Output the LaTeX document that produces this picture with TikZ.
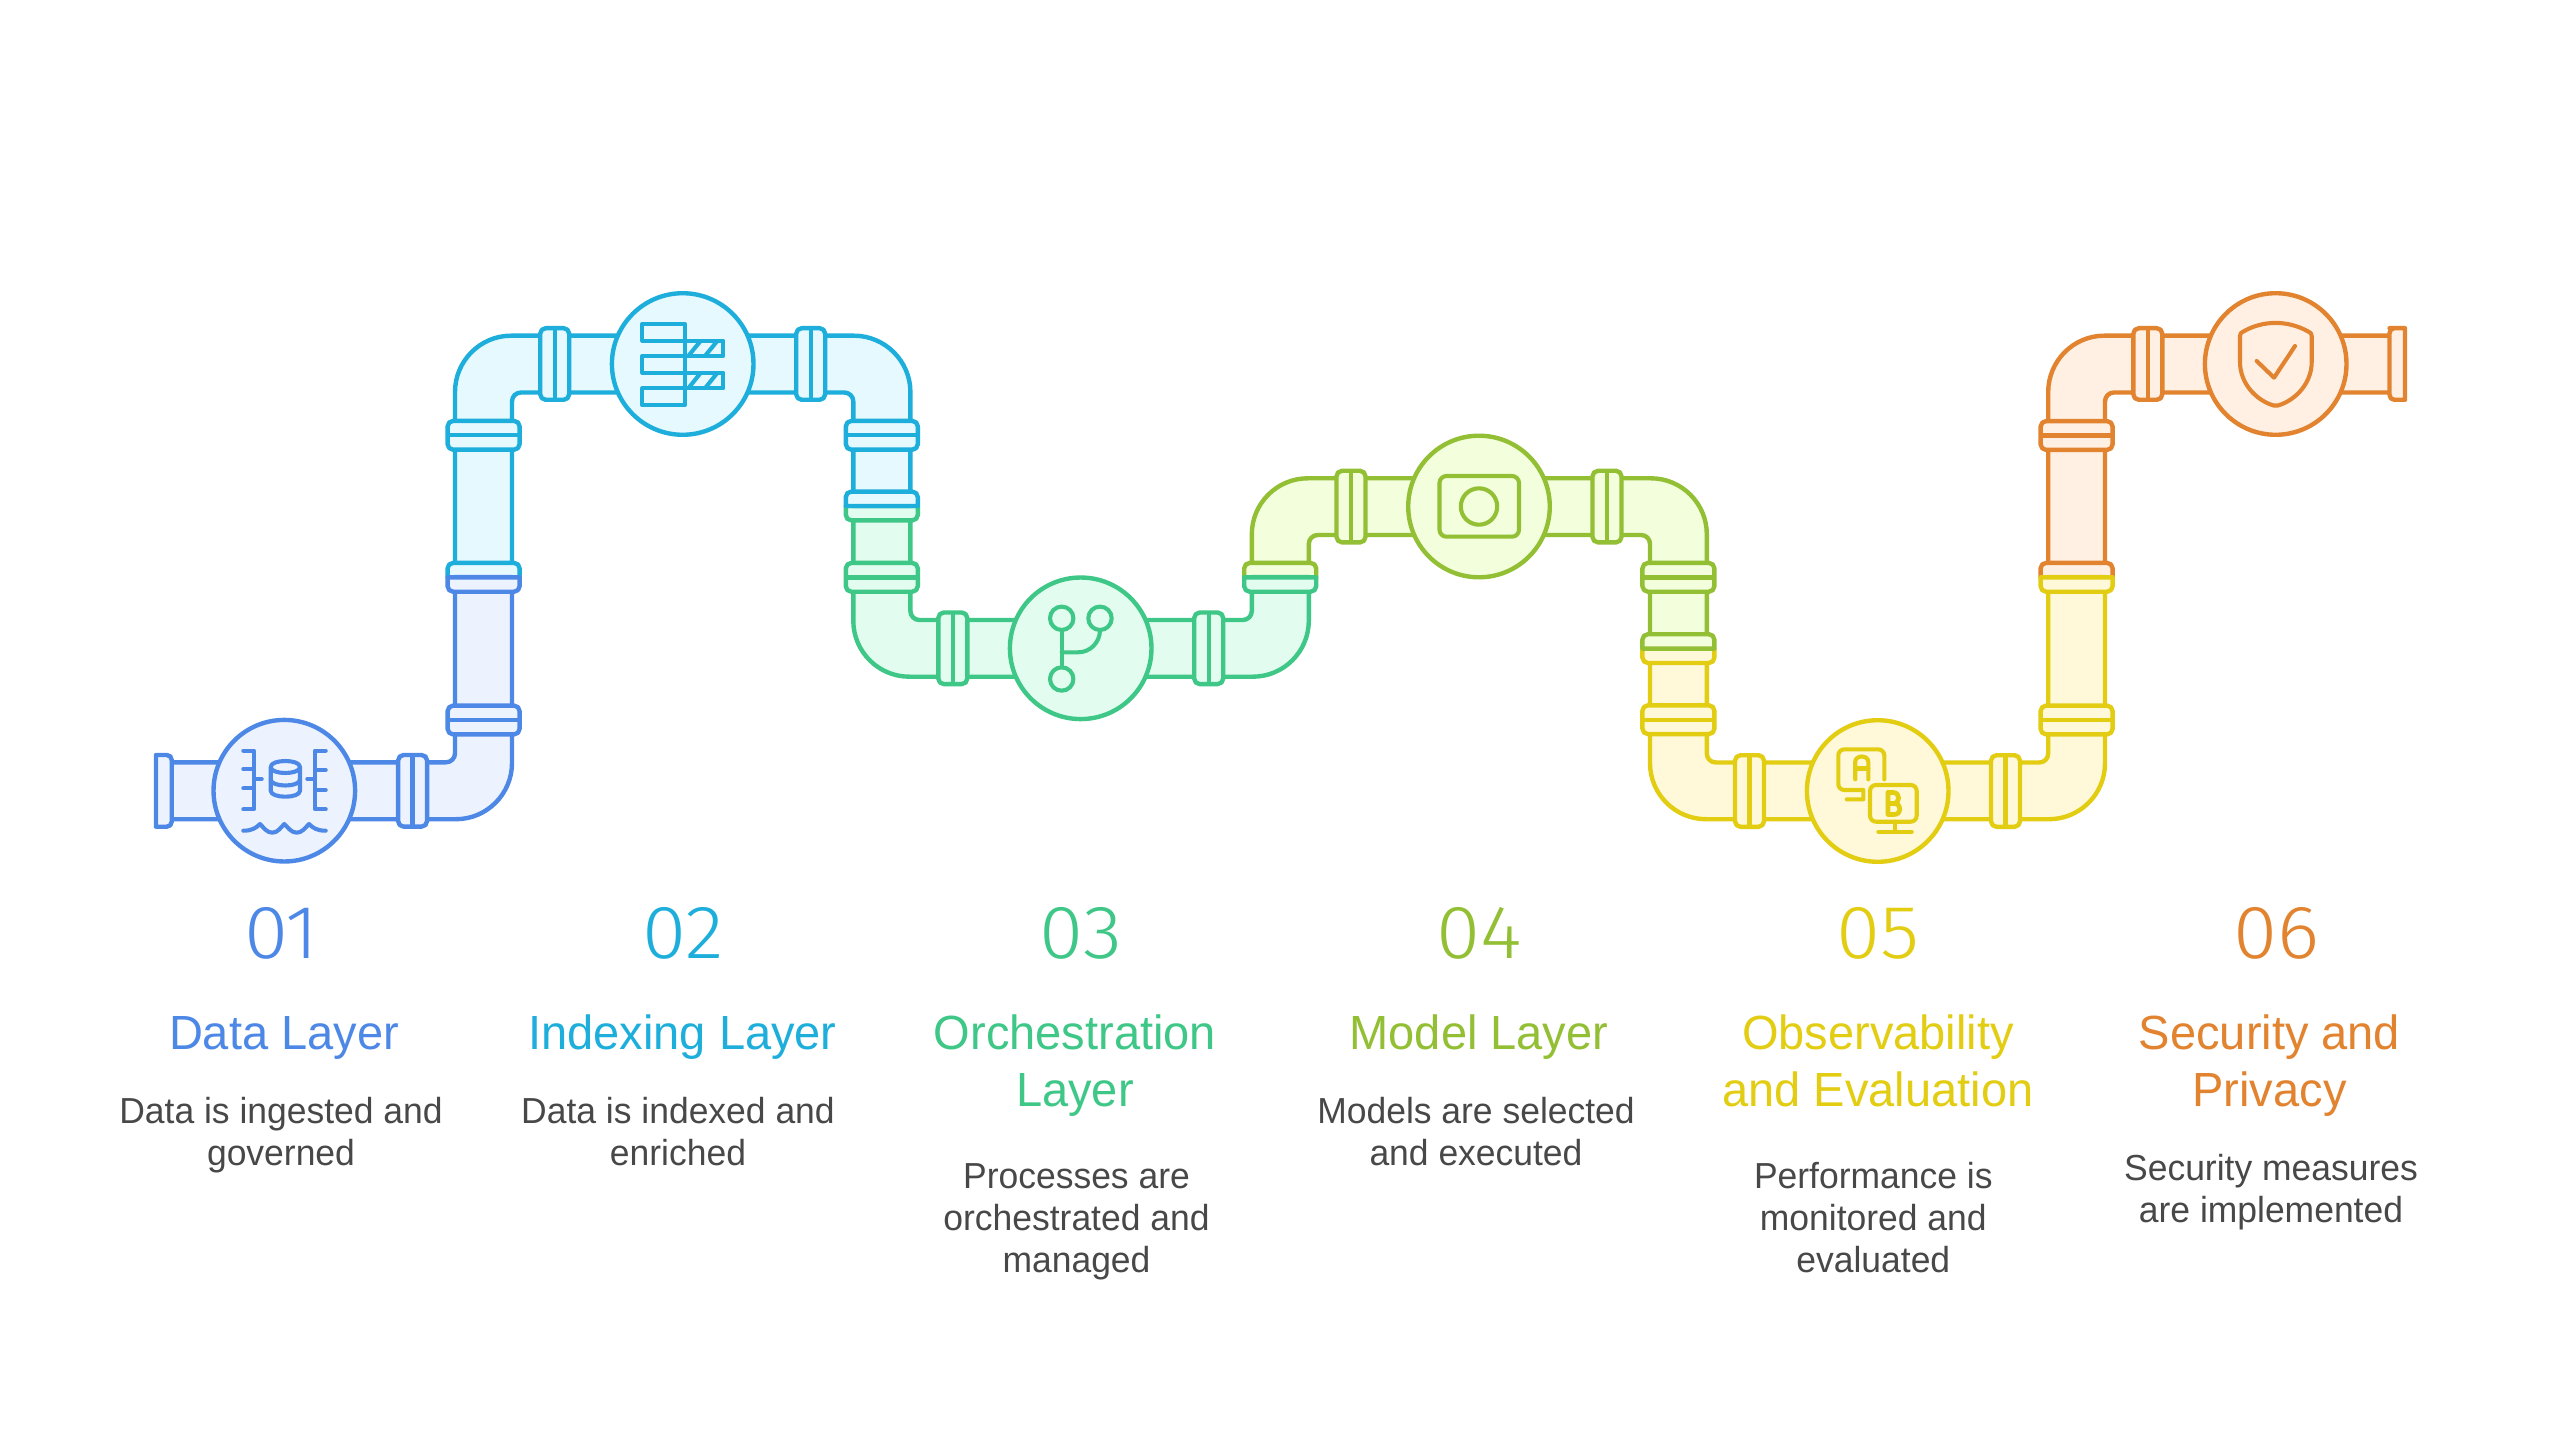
\documentclass[tikz,border=0pt]{standalone}
\usepackage{fontspec}
\setmainfont{Liberation Sans}[FakeStretch=0.98]
\newfontfamily\numfont{Fira Sans Light}[FakeStretch=1.06]
\definecolor{s1}{HTML}{4E88E7}\definecolor{f1}{HTML}{ECF3FF}
\definecolor{s2}{HTML}{1EAEDB}\definecolor{f2}{HTML}{E6F9FF}
\definecolor{s3}{HTML}{3EC787}\definecolor{f3}{HTML}{E2FDF0}
\definecolor{s4}{HTML}{93BF35}\definecolor{f4}{HTML}{F2FEDC}
\definecolor{s5}{HTML}{E2CD13}\definecolor{f5}{HTML}{FFF9DA}
\definecolor{s6}{HTML}{E2832F}\definecolor{f6}{HTML}{FFF0E3}
\definecolor{txt}{HTML}{484848}
\tikzset{
  part/.style={draw=stroke,fill=body,line width=0.088cm,line join=round},
  lin/.style={draw=stroke,line width=0.088cm,line join=round,line cap=round},
  icon/.style={draw=stroke,line width=0.082cm,line join=round,line cap=round},
  hub/.style={circle,draw=stroke,fill=body,line width=0.088cm,inner sep=0pt,minimum size=2.832cm},
  numtxt/.style={anchor=base,inner sep=0pt,font=\numfont\fontsize{43}{48}\selectfont},
  titletxt/.style={anchor=base,inner sep=0pt,align=center,font=\fontsize{27.3}{32.4}\selectfont},
  desctxt/.style={anchor=base,inner sep=0pt,align=center,text=txt,font=\fontsize{20.6}{24.1}\selectfont},
}
\newcommand{\flng}[2]{%
  \draw[part,rounded corners=0.11cm,shift={(#1,#2)}] (-14.5,-35.8) rectangle (14.5,35.8);
  \draw[lin,line cap=butt,shift={(#1,#2)}] (0,-35.8) -- (0,35.8);}
\newcommand{\collar}[2]{%
  \draw[part,rounded corners=0.11cm,shift={(#1,#2)}] (-36,-14.4) rectangle (36,14.4);
  \draw[lin,line cap=butt,shift={(#1,#2)}] (-36,0) -- (36,0);}
% half collar: #3 = 1 lower half, -1 upper half
\newcommand{\hcollar}[3]{%
  \draw[part,shift={(#1,#2)},yscale=#3] (-36,0) -- (-36,9) .. controls (-36,12) and (-33.5,14.4) .. (-30.5,14.4) -- (30.5,14.4) .. controls (33.5,14.4) and (36,12) .. (36,9) -- (36,0) -- cycle;}
\begin{document}
\begin{tikzpicture}[x=0.02cm,y=-0.02cm]
\useasboundingbox (0,0) rectangle (2560,1439);
\fill[white] (0,0) rectangle (2560,1439);

% ---------- pipe 6
\colorlet{stroke}{s6}\colorlet{body}{f6}
\draw[part] (2048.2,577) -- (2048.2,392) .. controls (2048.2,361.1) and (2073.3,335.7) .. (2104.2,335.7) -- (2397,335.7) -- (2397,392.5) -- (2114,392.5) .. controls (2109,392.5) and (2105,396.5) .. (2105,401.5) -- (2105,577) -- cycle;
\hcollar{2076.6}{577.3}{-1}
\collar{2076.6}{435.5}
\flng{2147.8}{364}
\draw[part] (2389.5,328.2) -- (2405,328.2) -- (2405,399.8) -- (2394.5,399.8) .. controls (2391.5,399.8) and (2389.5,397.8) .. (2389.5,394.8) -- (2389.5,333.2) .. controls (2389.5,330.2) and (2391.5,328.2) .. (2394.5,328.2) -- cycle;
\node[hub] (hub6) at (2275.7,364) {};
\draw[icon] (2240,336) .. controls (2240,333.5) and (2241,332.5) .. (2243,331.7) .. controls (2263,320) and (2288,320) .. (2308.5,331.7) .. controls (2310.5,332.5) and (2311.7,333.5) .. (2311.7,336) -- (2311.7,362) .. controls (2311.7,383) and (2296,400) .. (2278,405.5) .. controls (2276.5,406) and (2275,406) .. (2273.5,405.5) .. controls (2255.5,400) and (2240,383) .. (2240,362) -- cycle;
\draw[icon] (2256.7,361) -- (2274,377.7) -- (2295,346);

% ---------- pipe 5
\colorlet{stroke}{s5}\colorlet{body}{f5}
\draw[part] (1650,648.5) -- (1650,763.2) .. controls (1650,794.1) and (1675.1,819.2) .. (1706,819.2) -- (2049,819.2) .. controls (2079.9,819.2) and (2105,794.1) .. (2105,763.2) -- (2105,577) -- (2048.2,577) -- (2048.2,753.5) .. controls (2048.2,758.5) and (2044.2,762.5) .. (2039.2,762.5) -- (1715.8,762.5) .. controls (1710.8,762.5) and (1706.8,758.5) .. (1706.8,753.5) -- (1706.8,648.5) -- cycle;
\hcollar{1678.4}{648.6}{1}
\collar{1678.4}{719.7}
\collar{2076.6}{720}
\hcollar{2076.6}{577.3}{1}
\flng{1749.5}{791}
\flng{2005.5}{791}
\node[hub] (hub5) at (1877.7,791) {};
\draw[icon] (1884.3,779.3) -- (1884.3,755.5) .. controls (1884.3,752) and (1881.5,749.3) .. (1878,749.3) -- (1844.5,749.3) .. controls (1841,749.3) and (1838.3,752) .. (1838.3,755.5) -- (1838.3,784) .. controls (1838.3,787.5) and (1841,790) .. (1844.5,790) -- (1863.3,790) -- (1863.3,799.3) -- (1846.7,799.3);
\draw[icon] (1855.2,779.3) -- (1855.2,762) .. controls (1855.2,754.7) and (1868.3,754.7) .. (1868.3,762) -- (1868.3,779.3);
\draw[icon] (1855.2,768.5) -- (1868.3,768.5);
\draw[icon,rounded corners=0.12cm] (1870,785) rectangle (1916.7,821.7);
\draw[icon] (1895,821.7) -- (1895,831.7);
\draw[icon] (1878.3,831.7) -- (1911.7,831.7);
\draw[icon,line width=0.095cm] (1888,792.5) -- (1888,814.5) -- (1894,814.5) .. controls (1902,814.5) and (1902,803.5) .. (1894,803.5) -- (1888,803.5);
\draw[icon,line width=0.095cm] (1888,792.5) -- (1893,792.5) .. controls (1900.5,792.5) and (1900.5,803.5) .. (1893,803.5);

% ---------- pipe 4
\colorlet{stroke}{s4}\colorlet{body}{f4}
\draw[part] (1251.8,577) -- (1251.8,534.3) .. controls (1251.8,503.4) and (1276.9,478.3) .. (1307.8,478.3) -- (1650.8,478.3) .. controls (1681.7,478.3) and (1706.8,503.4) .. (1706.8,534.3) -- (1706.8,648.5) -- (1650,648.5) -- (1650,544) .. controls (1650,539) and (1646,535) .. (1641,535) -- (1317.8,535) .. controls (1312.8,535) and (1308.8,539) .. (1308.8,544) -- (1308.8,577) -- cycle;
\hcollar{1280.2}{577.3}{-1}
\collar{1678.4}{577.3}
\hcollar{1678.4}{648.6}{-1}
\flng{1351}{506.6}
\flng{1607}{506.6}
\node[hub] (hub4) at (1479,506.5) {};
\draw[icon,rounded corners=0.14cm] (1439.5,476) rectangle (1519,536.7);
\draw[icon] (1479,506.5) circle [radius=0.364cm];

% ---------- pipe 3
\colorlet{stroke}{s3}\colorlet{body}{f3}
\draw[part] (853.3,506) -- (853.3,620.7) .. controls (853.3,651.6) and (878.4,676.7) .. (909.3,676.7) -- (1252.8,676.7) .. controls (1283.7,676.7) and (1308.8,651.6) .. (1308.8,620.7) -- (1308.8,577) -- (1251.8,577) -- (1251.8,611) .. controls (1251.8,616) and (1247.8,620) .. (1242.8,620) -- (919.4,620) .. controls (914.4,620) and (910.4,616) .. (910.4,611) -- (910.4,506) -- cycle;
\hcollar{881.8}{506}{1}
\collar{881.8}{577.3}
\hcollar{1280.2}{577.3}{1}
\flng{952.8}{648.3}
\flng{1208.7}{648.3}
\node[hub] (hub3) at (1080.7,648.3) {};
\draw[icon] (1061.7,618.3) circle [radius=0.234cm];
\draw[icon] (1100,618.3) circle [radius=0.234cm];
\draw[icon] (1061.7,679) circle [radius=0.234cm];
\draw[icon] (1061.7,630) -- (1061.7,667.3);
\draw[icon] (1061.7,652.3) -- (1078.3,652.3) .. controls (1090,652.3) and (1100,642.5) .. (1100,630);

% ---------- pipe 2
\colorlet{stroke}{s2}\colorlet{body}{f2}
\draw[part] (455,577) -- (455,392) .. controls (455,361.1) and (480.1,335.7) .. (511,335.7) -- (854,335.7) .. controls (884.9,335.7) and (910.4,361.1) .. (910.4,392) -- (910.4,506) -- (853.3,506) -- (853.3,401.5) .. controls (853.3,396.5) and (849.3,392.5) .. (844.3,392.5) -- (521,392.5) .. controls (516,392.5) and (512,396.5) .. (512,401.5) -- (512,577) -- cycle;
\hcollar{483.6}{577.3}{-1}
\collar{483.6}{435.3}
\collar{881.8}{435.3}
\hcollar{881.8}{506}{-1}
\flng{554.7}{364}
\flng{810.7}{364}
\node[hub] (hub2) at (682.7,364) {};
\draw[icon,line cap=butt] (642.3,324) rectangle (685,340.7);
\draw[icon,line cap=butt] (642.3,356) rectangle (685,372.7);
\draw[icon,line cap=butt] (642.3,388.3) rectangle (685,405);
\draw[icon,line cap=butt] (685,340.7) rectangle (723.3,356);
\draw[icon,line cap=butt] (685,372.7) rectangle (723.3,388.3);
\draw[icon,line cap=butt] (688.3,356) -- (700.8,340.7);
\draw[icon,line cap=butt] (705,356) -- (717.5,340.7);
\draw[icon,line cap=butt] (688.3,388.3) -- (700.8,372.7);
\draw[icon,line cap=butt] (705,388.3) -- (717.5,372.7);

% ---------- pipe 1
\colorlet{stroke}{s1}\colorlet{body}{f1}
\draw[part] (165,762.3) -- (446,762.3) .. controls (451,762.3) and (455,758.3) .. (455,753.3) -- (455,577) -- (512,577) -- (512,763) .. controls (512,793.9) and (486.9,819.2) .. (456,819.2) -- (165,819.2) -- cycle;
\hcollar{483.6}{577.3}{1}
\collar{483.6}{720}
\flng{412.6}{790.8}
\draw[part] (156,755) -- (166.7,755) .. controls (169.7,755) and (171.7,757) .. (171.7,760) -- (171.7,821.7) .. controls (171.7,824.7) and (169.7,826.7) .. (166.7,826.7) -- (156,826.7) -- cycle;
\node[hub] (hub1) at (284.3,790.7) {};
\draw[icon] (243.3,750.7) -- (254,750.7) -- (254,809.3) -- (243.3,809.3);
\draw[icon] (243.3,769) -- (254,769);
\draw[icon] (254,779) -- (261.7,779);
\draw[icon] (243.3,788.3) -- (254,788.3);
\draw[icon] (325.7,750.7) -- (315,750.7) -- (315,809.3) -- (325.7,809.3);
\draw[icon] (325.7,770) -- (315,770);
\draw[icon] (315,779) -- (307.3,779);
\draw[icon] (325.7,790) -- (315,790);
\draw[icon] (270.7,767) .. controls (270.7,759) and (300,759) .. (300,767) .. controls (300,775) and (270.7,775) .. (270.7,767) -- (270.7,790.7) .. controls (270.7,798.7) and (300,798.7) .. (300,790.7) -- (300,767);
\draw[icon] (270.7,779.5) .. controls (270.7,787.5) and (300,787.5) .. (300,779.5);
\draw[icon] (243.3,830.7) .. controls (252,830.7) and (256,828) .. (260,824) .. controls (264,828) and (267,832.7) .. (272.3,832.7) .. controls (278,832.7) and (281,827) .. (284.3,824) .. controls (287.6,827) and (291,832.7) .. (296.7,832.7) .. controls (302,832.7) and (305,828) .. (309,824) .. controls (313,828) and (317,830.7) .. (325.7,830.7);

% ---------- numbers
\node[numtxt,text=s1] (num1) at (281.5,958.5) {01};
\node[numtxt,text=s2] (num2) at (682.7,958.5) {02};
\node[numtxt,text=s3] (num3) at (1081,958.5) {03};
\node[numtxt,text=s4] (num4) at (1479,958.5) {04};
\node[numtxt,text=s5] (num5) at (1878,958.5) {05};
\node[numtxt,text=s6] (num6) at (2276,958.5) {06};

% ---------- titles
\node[titletxt,text=s1] (title1) at (284,1049) {Data Layer};
\node[titletxt,text=s2] (title2) at (682.5,1049) {Indexing Layer};
\node[titletxt,text=s3] (title3) at (1075,1106) {Orchestration\\Layer};
\node[titletxt,text=s4] (title4) at (1479,1049) {Model Layer};
\node[titletxt,text=s5] (title5) at (1878,1106) {Observability\\and Evaluation};
\node[titletxt,text=s6] (title6) at (2269.5,1106) {Security and\\Privacy};

% ---------- descriptions
\node[desctxt] (desc1) at (281,1165.5) {Data is ingested and\\governed};
\node[desctxt] (desc2) at (678,1165.5) {Data is indexed and\\enriched};
\node[desctxt] (desc3) at (1076.5,1272.7) {Processes are\\orchestrated and\\managed};
\node[desctxt] (desc4) at (1476,1165.5) {Models are selected\\and executed};
\node[desctxt] (desc5) at (1873.3,1272.7) {Performance is\\monitored and\\evaluated};
\node[desctxt] (desc6) at (2271,1222.7) {Security measures\\are implemented};
\end{tikzpicture}
\end{document}
